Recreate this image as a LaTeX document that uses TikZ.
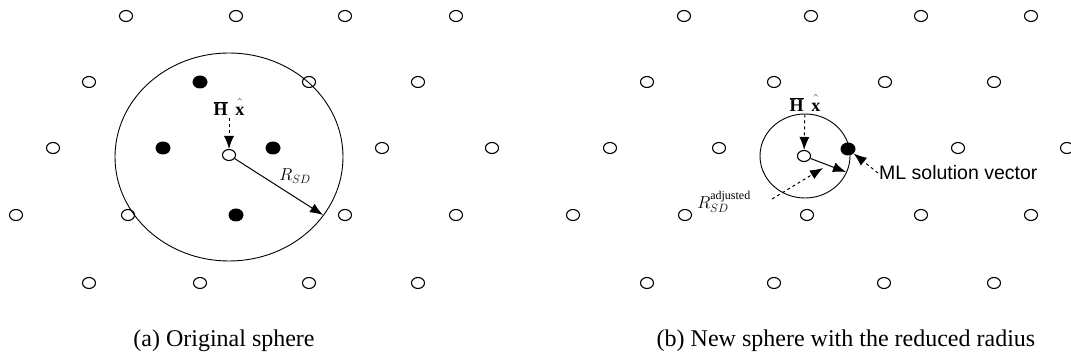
\documentclass[tikz,border=0pt]{standalone}
\usepackage{fontspec}
\setmainfont{Liberation Serif}
\newfontfamily\mlfont{Liberation Sans}
\usetikzlibrary{shapes.geometric,arrows.meta}

\begin{document}
\begin{tikzpicture}[
		x=1pt, y=-1pt,
		o/.style	= {ellipse, draw, line width=1.1pt, minimum width=13, minimum height=11, inner sep=0pt},
		f/.style	= {ellipse, fill, minimum width=15, minimum height=13, inner sep=0pt},
		sph/.style	= {ellipse, draw, line width=0.9pt, inner sep=0pt},
		r/.style	= {-{Latex[length=13pt, width=10pt]}, line width=1pt},
		d/.style	= {r, dash pattern=on 3pt off 3pt},
		lbl/.style	= {font=\LARGE, inner sep=1pt},
		hx/.style	= {font=\fontsize{18}{20}\selectfont, inner sep=1pt},
		captxt/.style	= {font=\fontsize{24}{26}\selectfont, inner sep=0pt, anchor=base},
		]
		\useasboundingbox (0,0) rectangle (1071,358);
		
		% === === (a) original sphere === ===
		\node[sph, minimum width=228, minimum height=208]	(sa)	at	(229, 157)	{};
		
		\foreach \x/\y [count=\i] in {126/16, 236/16, 345/16, 456/16,
				89/82, 309/82, 418/82,
				53/148, 382/148, 492/148,
				16/215, 128/215, 345/215, 456/215,
				89/283, 200/283, 309/283, 418/283}
			\node[o]	(pa\i)	at	(\x, \y)	{};
		\foreach \x/\y [count=\i] in {200/82, 163/148, 273/148, 236/215}
			\node[f]	(fa\i)	at	(\x, \y)	{};
		
		\node[o]	(ca)	at	(229, 155)		{};
		\node[hx]	(hxa)	at	(229, 107)		{$\overline{\mathbf{H}}\;\,\hat{\vphantom{\mathbf{H}}\mathbf{x}}$};
		\node[lbl]	(rsd)	at	(295, 176)		{$R_{SD}$};
		\coordinate	(ea)	at	(323, 215);
		
		\draw[d, shorten <=2pt]	(hxa)	--	(ca);
		\draw[r]				(ca)	--	(ea);
		
		% === === (b) reduced sphere === ===
		\node[sph, minimum width=90, minimum height=84]	(sb)	at	(805, 156)	{};
		
		\foreach \x/\y [count=\i] in {684/16, 811/16, 921/16, 1031/16,
				647/82, 774/82, 885/82, 994/82,
				610/148, 719/148, 958/148, 1067/148,
				573/215, 685/215, 807/215, 921/215, 1031/215,
				647/283, 774/283, 884/283, 994/283}
			\node[o]	(pb\i)	at	(\x, \y)	{};
		
		\node[o]	(cb)	at	(804, 156)		{};
		\node[f]	(fb)	at	(848, 149)		{};
		\node[hx]	(hxb)	at	(805, 103)		{$\overline{\mathbf{H}}\;\,\hat{\vphantom{\mathbf{H}}\mathbf{x}}$};
		\node[lbl]	(radj)	at	(724, 202)		{$R_{SD}^{\mathrm{adjusted}}$};
		\node[anchor=west, font=\mlfont\fontsize{19.5}{22}\selectfont, inner sep=1pt]
					(ml)	at	(878, 173)		{ML solution vector};
		\coordinate	(eb)	at	(846, 172);
		\coordinate	(sa0)	at	(772, 199);
		\coordinate	(sa1)	at	(823, 168);
		
		\draw[d, shorten <=2pt]	(hxb)		--	(cb);
		\draw[r]				(cb)		--	(eb);
		\draw[d]				(sa0)		--	(sa1);
		\draw[d]				(ml.west)	--	(fb);
		
		% === === captions === ===
		\node[captxt]	(capa)	at	(224, 346)	{(a) Original sphere};
		\node[captxt]	(capb)	at	(846, 346)	{(b) New sphere with the reduced radius};
		
	\end{tikzpicture}
\end{document}
